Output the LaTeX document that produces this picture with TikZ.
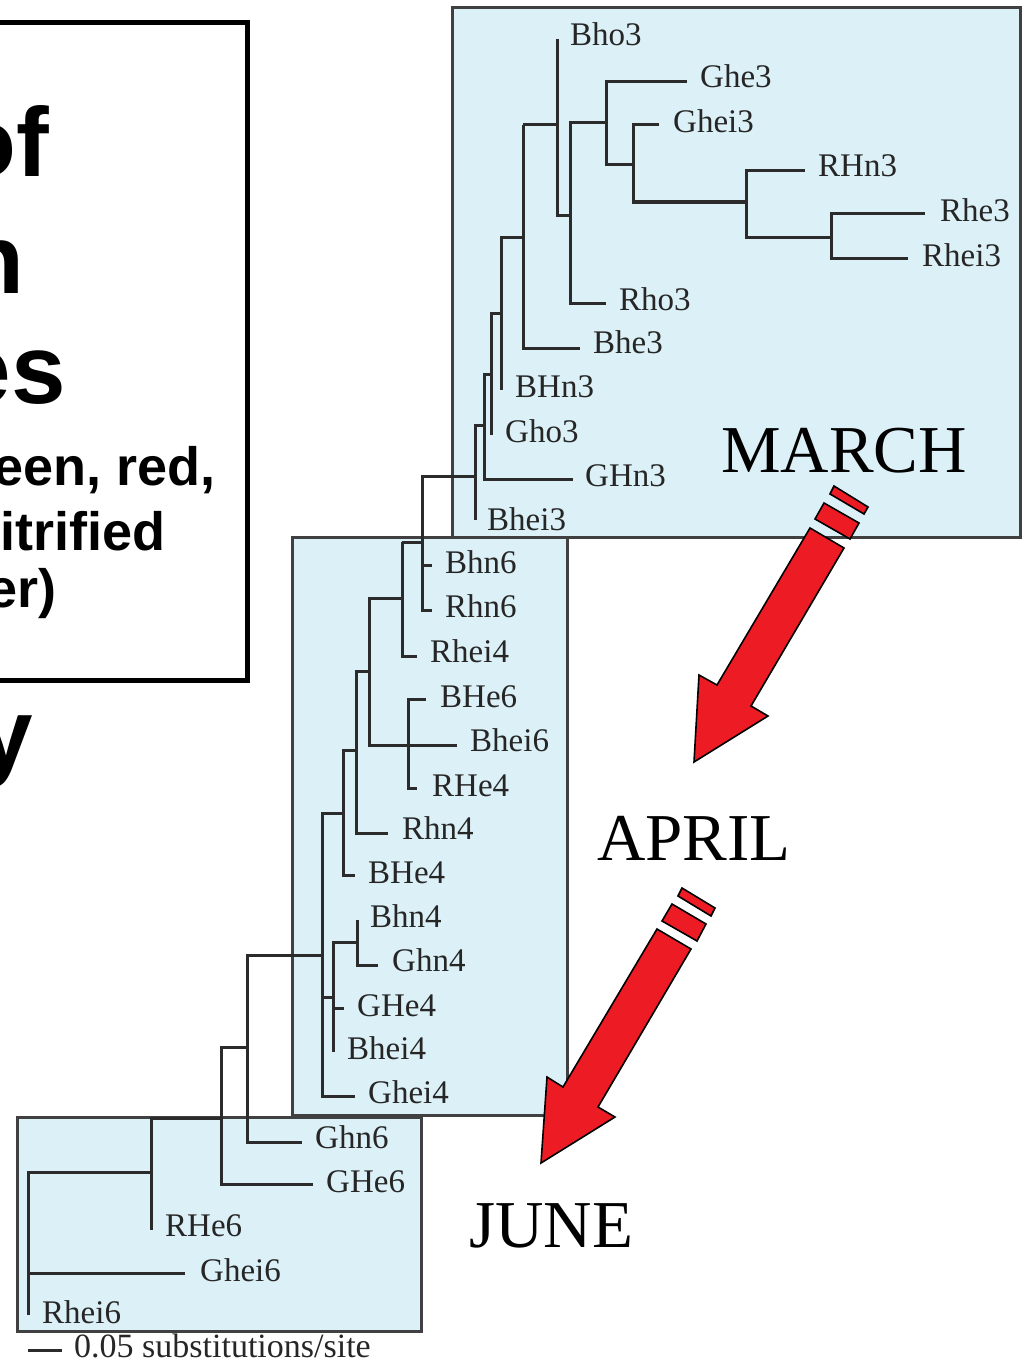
\documentclass[tikz,border=0pt]{standalone}
\usepackage{fontspec}
\setmainfont{Liberation Serif}
\newfontfamily\lsans{Liberation Sans}
\definecolor{boxfill}{HTML}{DCF1F7}
\definecolor{boxedge}{HTML}{404040}
\definecolor{treeline}{HTML}{2B2B2B}
\definecolor{arrowred}{HTML}{ED1C24}
\tikzset{
  panel/.style={draw=boxedge, line width=3pt, fill=boxfill},
  branch/.style={draw=treeline, line width=3pt, line cap=butt, line join=miter},
  leaf/.style={anchor=base west, inner sep=0pt, font=\fontsize{33}{38}\selectfont, text=black!85},
  month/.style={anchor=base west, inner sep=0pt, font=\fontsize{67}{75}\selectfont},
  bigtxt/.style={anchor=base east, inner sep=0pt, font=\lsans\bfseries\fontsize{98}{110}\selectfont},
  midtxt/.style={anchor=base east, inner sep=0pt, font=\lsans\bfseries\fontsize{54}{62}\selectfont},
  redarrow/.style={fill=arrowred, draw=black, line width=1.6pt, line join=miter}
}
\begin{document}
\begin{tikzpicture}[x=1pt,y=-1pt]
\useasboundingbox (0,0) rectangle (1027,1359);
\clip (0,0) rectangle (1027,1359);

% ---------- left title box (cut off) ----------
\draw[line width=5pt] (-20,23) rectangle (247,680);
\node[bigtxt] (t1) at (49,177) {of};
\node[bigtxt] (t2) at (25,293) {n};
\node[bigtxt] (t3) at (66,403) {es};
\node[midtxt] (t4) at (216,485) {een, red,};
\node[midtxt] (t5) at (166,550) {itrified};
\node[midtxt] (t6) at (57,607) {er)};
\node[bigtxt] (t7) at (33,767) {y};

% ---------- panels ----------
\path[panel] (452,8) rectangle (1020,537);
\path[panel] (292,537) rectangle (567,1115);
\path[panel] (17,1117) rectangle (421,1331);

% ---------- tree: top (March) ----------
\draw[branch] (557,39) -- (557,215) -- (570,215);
\draw[branch] (523,125) -- (557,125);
\draw[branch] (606,123) -- (570,123) -- (570,303) -- (606,303);
\draw[branch] (687,82) -- (606,82) -- (606,165) -- (633,165);
\draw[branch] (659,125) -- (633,125) -- (633,202) -- (746,202);
\draw[branch] (805,171) -- (746,171) -- (746,237) -- (831,237);
\draw[branch] (925,213) -- (831,213) -- (831,258) -- (908,258);
\draw[branch] (523,125) -- (523,348) -- (580,348);
\draw[branch] (523,237) -- (501,237) -- (501,390);
\draw[branch] (501,313) -- (491,313) -- (491,435);
\draw[branch] (491,374) -- (484,374) -- (484,479) -- (573,479);
\draw[branch] (484,425) -- (475,425) -- (475,520);
\draw[branch] (475,476) -- (422,476) -- (422,610) -- (432,610);
\draw[branch] (422,565) -- (432,565);
\draw[branch] (422,542) -- (402,542);

% ---------- tree: middle (April) ----------
\draw[branch] (402,542) -- (402,656) -- (417,656);
\draw[branch] (402,598) -- (369,598) -- (369,745) -- (457,745);
\draw[branch] (426,699) -- (408,699) -- (408,788) -- (417,788);
\draw[branch] (369,671) -- (356,671) -- (356,833) -- (388,833);
\draw[branch] (356,750) -- (343,750) -- (343,875) -- (355,875);
\draw[branch] (343,813) -- (322,813) -- (322,1096) -- (355,1096);
\draw[branch] (322,997) -- (333,997);
\draw[branch] (357,942) -- (333,942) -- (333,1052);
\draw[branch] (333,1008) -- (344,1008);
\draw[branch] (357,920) -- (357,965) -- (378,965);
\draw[branch] (322,955) -- (247,955) -- (247,1142) -- (302,1142);
\draw[branch] (247,1047) -- (221,1047) -- (221,1184) -- (313,1184);

% ---------- tree: bottom (June) ----------
\draw[branch] (221,1118) -- (151,1118) -- (151,1230);
\draw[branch] (151,1172) -- (28,1172) -- (28,1315);
\draw[branch] (28,1273) -- (185,1273);
\draw[branch] (28,1350) -- (62,1350);

% ---------- leaf labels ----------
\node[leaf] (Bho3)  at (570,46)  {Bho3};
\node[leaf] (Ghe3)  at (700,88)  {Ghe3};
\node[leaf] (Ghei3) at (673,133) {Ghei3};
\node[leaf] (RHn3)  at (818,177) {RHn3};
\node[leaf] (Rhe3)  at (940,222) {Rhe3};
\node[leaf] (Rhei3) at (922,266) {Rhei3};
\node[leaf] (Rho3)  at (619,310) {Rho3};
\node[leaf] (Bhe3)  at (593,353) {Bhe3};
\node[leaf] (BHn3)  at (515,397) {BHn3};
\node[leaf] (Gho3)  at (505,442) {Gho3};
\node[leaf] (GHn3)  at (585,486) {GHn3};
\node[leaf] (Bhei3) at (487,530) {Bhei3};
\node[leaf] (Bhn6)  at (445,573) {Bhn6};
\node[leaf] (Rhn6)  at (445,617) {Rhn6};
\node[leaf] (Rhei4) at (430,662) {Rhei4};
\node[leaf] (BHe6)  at (440,707) {BHe6};
\node[leaf] (Bhei6) at (470,751) {Bhei6};
\node[leaf] (RHe4)  at (432,796) {RHe4};
\node[leaf] (Rhn4)  at (402,839) {Rhn4};
\node[leaf] (BHe4)  at (368,883) {BHe4};
\node[leaf] (Bhn4)  at (370,927) {Bhn4};
\node[leaf] (Ghn4)  at (392,971) {Ghn4};
\node[leaf] (GHe4)  at (357,1016) {GHe4};
\node[leaf] (Bhei4) at (347,1059) {Bhei4};
\node[leaf] (Ghei4) at (368,1103) {Ghei4};
\node[leaf] (Ghn6)  at (315,1148) {Ghn6};
\node[leaf] (GHe6)  at (326,1192) {GHe6};
\node[leaf] (RHe6)  at (165,1236) {RHe6};
\node[leaf] (Ghei6) at (200,1281) {Ghei6};
\node[leaf] (Rhei6) at (42,1323)  {Rhei6};
\node[leaf, font=\fontsize{34}{38}\selectfont] (scale) at (74,1357) {0.05 substitutions/site};

% ---------- months ----------
\node[month] (march) at (721,472) {MARCH};
\node[month] (april) at (597,860) {APRIL};
\node[month] (june)  at (469,1247) {JUNE};

% ---------- red arrows ----------
\draw[redarrow] (834,486) -- (868,507) -- (864,514) -- (830,494) -- cycle;
\draw[redarrow] (824,503) -- (859,523) -- (850,539) -- (815,519) -- cycle;
\draw[redarrow] (810,528) -- (844,548) -- (751,706) -- (768,716) -- (694,762) -- (699,675) -- (717,685) -- cycle;

\draw[redarrow] (682,888) -- (715,908) -- (711,916) -- (678,896) -- cycle;
\draw[redarrow] (672,904) -- (706,924) -- (697,941) -- (662,921) -- cycle;
\draw[redarrow] (657,929) -- (691,949) -- (598,1107) -- (615,1117) -- (541,1163) -- (547,1077) -- (563,1087) -- cycle;
\end{tikzpicture}
\end{document}
